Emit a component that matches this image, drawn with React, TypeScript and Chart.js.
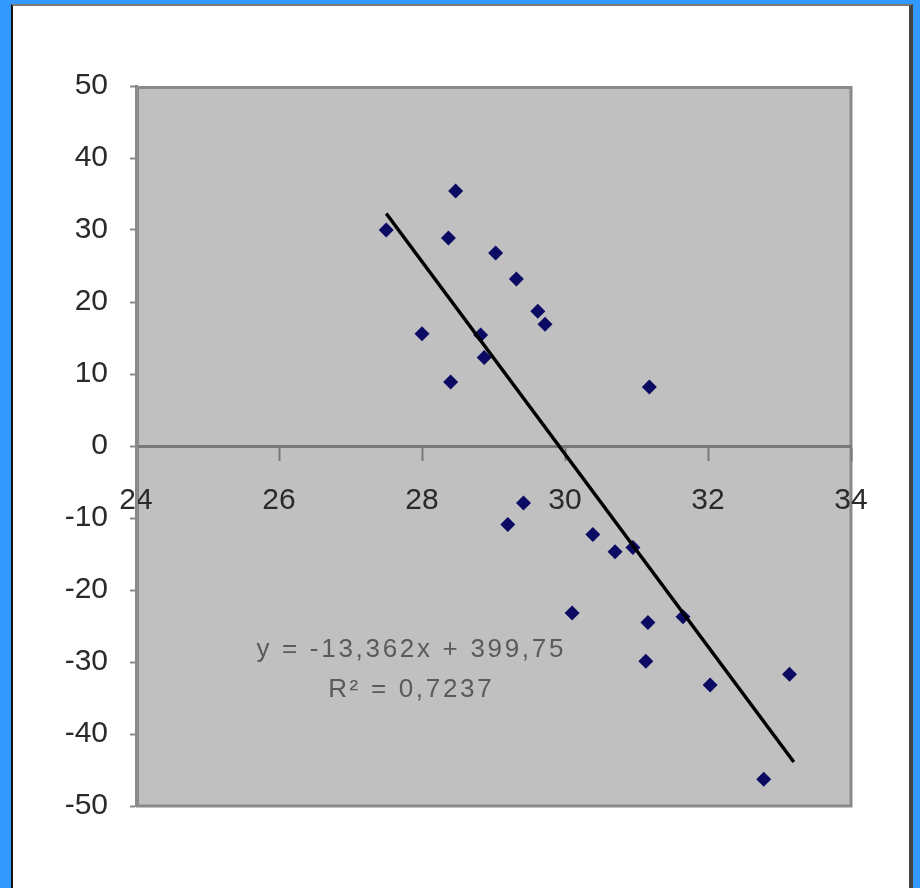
import React, { useEffect, useRef } from "react";
import { Chart, registerables } from "chart.js";

Chart.register(...registerables);

const pointsX = [27.5, 28.47, 28.37, 29.03, 29.32, 29.62, 29.72, 28.0, 28.82, 28.87, 28.4, 31.18, 29.42, 29.2, 30.39, 30.7, 30.95, 30.1, 31.16, 31.65, 31.13, 32.03, 33.14, 32.78];
const pointsY = [30.0, 35.4, 28.9, 26.8, 23.2, 18.7, 16.9, 15.6, 15.4, 12.3, 8.9, 8.2, -7.9, -10.9, -12.3, -14.7, -14.1, -23.2, -24.5, -23.7, -29.9, -33.2, -31.7, -46.3];
const trendX = [27.5, 33.2];
const trendY = [32.3, -43.9];
const xTicksMin = 24;
const xTicksMax = 34;
const yTicksMin = -50;
const yTicksMax = 50;
const equationLines = ["y = -13,362x + 399,75", "R\u00b2 = 0,7237"];
const equationAnchor = { x: 27.85, y: [-28.3, -33.8] };

export default function App() {
  const ref = useRef<HTMLCanvasElement | null>(null);

  useEffect(() => {
    const canvas = ref.current;
    if (!canvas) return;

    const plotBg = {
      id: "plotBg",
      beforeDraw(chart: any) {
        const { ctx, chartArea } = chart;
        ctx.save();
        ctx.fillStyle = "#c0c0c0";
        ctx.fillRect(chartArea.left, chartArea.top, chartArea.right - chartArea.left, chartArea.bottom - chartArea.top);
        ctx.strokeStyle = "#8a8a8a";
        ctx.lineWidth = 3;
        ctx.strokeRect(chartArea.left + 1.5, chartArea.top + 1.5, chartArea.right - chartArea.left - 1.5, chartArea.bottom - chartArea.top - 1.5);
        ctx.restore();
      },
    };

    const equation = {
      id: "equation",
      afterDraw(chart: any) {
        const { ctx, scales } = chart;
        ctx.save();
        ctx.fillStyle = "#5a5a5a";
        ctx.font = "26px 'Liberation Sans', Arial, sans-serif";
        (ctx as any).letterSpacing = "2.7px";
        ctx.textAlign = "center";
        ctx.textBaseline = "middle";
        equationLines.forEach((t, i) => {
          ctx.fillText(t, scales.x.getPixelForValue(equationAnchor.x), scales.y.getPixelForValue(equationAnchor.y[i]));
        });
        ctx.restore();
      },
    };

    const chart = new Chart(canvas, {
      type: "scatter",
      data: {
        datasets: [
          {
            label: "trend",
            type: "line",
            data: trendX.map((x, i) => ({ x, y: trendY[i] })),
            borderColor: "#000000",
            borderWidth: 3.5,
            pointRadius: 0,
            fill: false,
            order: 1,
          } as any,
          {
            label: "data",
            data: pointsX.map((x, i) => ({ x, y: pointsY[i] })),
            pointStyle: "rectRot",
            pointRadius: 7.5,
            backgroundColor: "#0b0b63",
            borderColor: "#0b0b63",
            borderWidth: 0,
            order: 2,
          },
        ],
      },
      options: {
        animation: false,
        responsive: false,
        layout: { padding: { top: 86, right: 69, bottom: 82, left: 0 } },
        plugins: { legend: { display: false }, tooltip: { enabled: false } },
        scales: {
          x: {
            type: "linear",
            position: { y: 0 } as any,
            min: xTicksMin,
            max: xTicksMax,
            ticks: {
              stepSize: 2,
              color: "#2a2a2a",
              font: { family: "'Liberation Sans', Arial, sans-serif", size: 30 },
              padding: 24,
              maxRotation: 0,
            },
            grid: { drawOnChartArea: false, drawTicks: true, tickLength: 13, tickColor: "#7a7a7a", tickWidth: 2 },
            border: { display: true, color: "#7a7a7a", width: 3 },
          },
          y: {
            type: "linear",
            position: "left",
            min: yTicksMin,
            max: yTicksMax,
            afterFit(scale: any) {
              scale.width = 136;
            },
            ticks: {
              stepSize: 10,
              color: "#2a2a2a",
              font: { family: "'Liberation Sans', Arial, sans-serif", size: 30 },
              padding: 22,
            },
            grid: { drawOnChartArea: false, drawTicks: true, tickLength: 6, tickColor: "#8a8a8a", tickWidth: 2 },
            border: { display: true, color: "#8a8a8a", width: 3 },
          },
        },
      },
      plugins: [plotBg, equation],
    });

    return () => chart.destroy();
  }, []);

  return (
    <div style={{ position: "fixed", left: 0, top: 0, width: 920, height: 888, background: "#3399ff", overflow: "hidden" }}>
      <div
        style={{
          position: "absolute",
          left: 11,
          top: 4,
          width: 902,
          height: 884,
          background: "#ffffff",
          borderLeft: "2px solid #111111",
          borderTop: "2px solid #7a7a7a",
          borderRight: "4px solid #444444",
          boxSizing: "border-box",
        }}
      />
      <canvas ref={ref} width={920} height={888} style={{ position: "absolute", left: 0, top: 0, display: "block" }} />
    </div>
  );
}
